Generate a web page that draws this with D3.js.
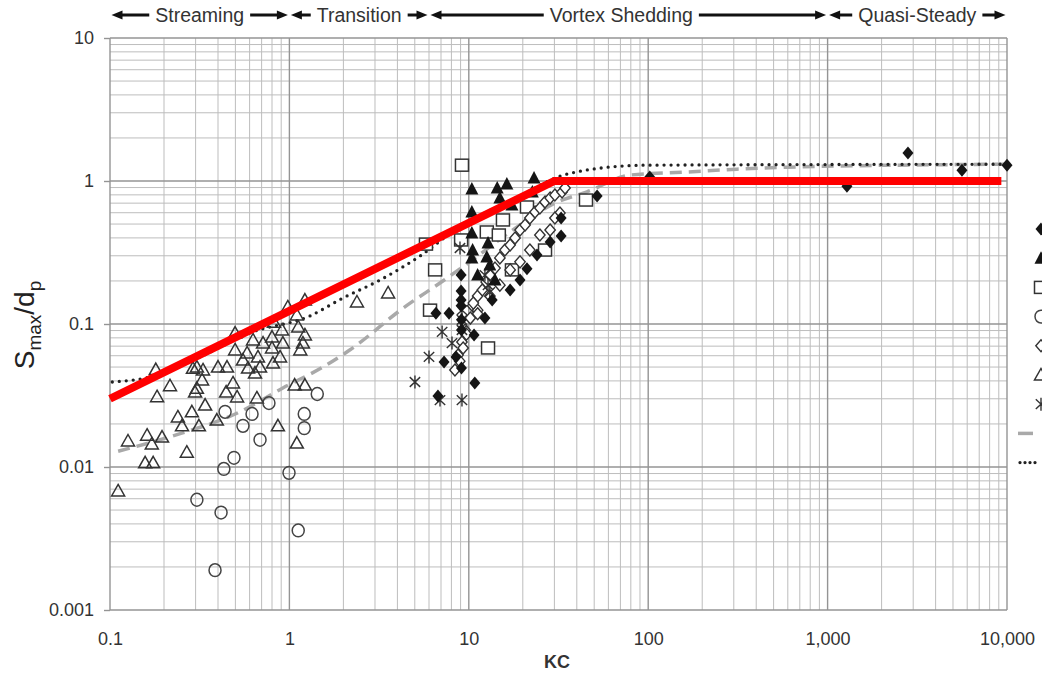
<!DOCTYPE html>
<html><head><meta charset="utf-8">
<script src="https://cdn.jsdelivr.net/npm/d3@7"></script>
<style>
body{margin:0;background:#fff}
svg{display:block;font-family:"Liberation Sans",Arial,Helvetica,sans-serif}
</style>
</head><body>
<svg id="c" width="1042" height="674"></svg>
<script>
// ---------------- data ----------------
const xTickValues = [0.1, 1, 10, 100, 1000, 10000];
const xTickLabels = ["0.1", "1", "10", "100", "1,000", "10,000"];
const yTickValues = [0.001, 0.01, 0.1, 1, 10];
const yTickLabels = ["0.001", "0.01", "0.1", "1", "10"];

const regionNames = ["Streaming", "Transition", "Vortex Shedding", "Quasi-Steady"];
const regionBounds = [0.1, 1, 6, 1000, 10000];

// [KC, Smax/dp]
const filledDiamonds = [[6.56,0.119],[7.76,0.119],[9.06,0.220],[9.06,0.170],[9.06,0.147],[9.06,0.134],[9.1,0.107],[9.1,0.0908],[7.28,0.0542],[8.49,0.0588],[9.1,0.0492],[10.8,0.0387],[6.73,0.0314],[10.7,0.0838],[12.3,0.110],[13.5,0.147],[21.1,0.243],[24.0,0.304],[28.4,0.374],[32.7,0.412],[32.7,0.551],[51.9,0.786],[17.0,0.173],[19.3,0.203],[102,1.066],[1282,0.92],[2805,1.57],[5610,1.19],[10000,1.29]];
const filledTriangles = [[10.4,0.879],[10.4,0.607],[10.4,0.433],[14.4,0.894],[16.3,0.953],[14.9,0.760],[23.1,1.05],[22.6,0.838],[10.5,0.329],[10.4,0.290],[12.8,0.368],[12.6,0.294],[13.1,0.259],[11.2,0.220],[14.0,0.203],[17.4,0.680]];
const openSquares = [[9.16,1.29],[5.77,0.362],[6.49,0.239],[6.08,0.125],[9.06,0.387],[12.8,0.068],[12.6,0.44],[15.5,0.534],[14.7,0.419],[17.4,0.239],[26.6,0.329],[45,0.736],[21.1,0.658]];
const openCircles = [[0.438,0.0243],[0.619,0.0235],[0.769,0.028],[0.551,0.0194],[0.686,0.0155],[1.43,0.0324],[1.21,0.0235],[1.21,0.0187],[0.491,0.0116],[0.431,0.0097],[0.995,0.0091],[0.305,0.0059],[0.416,0.0048],[1.12,0.0036],[0.385,0.0019]];
const openDiamonds = [[8.37,0.0477],[8.71,0.0607],[9.16,0.0748],[9.53,0.0908],[10.2,0.110],[10.5,0.134],[11.2,0.157],[11.9,0.173],[12.5,0.197],[13.1,0.220],[14.0,0.246],[14.9,0.290],[15.9,0.329],[17.0,0.357],[18.1,0.399],[19.3,0.454],[20.6,0.492],[21.9,0.551],[23.4,0.607],[24.9,0.647],[26.6,0.713],[28.4,0.760],[30.2,0.798],[33.1,0.838],[34.4,0.894],[11.2,0.125],[13.1,0.157],[14.9,0.187],[17.0,0.239],[19.3,0.272],[21.9,0.329],[24.9,0.419],[28.4,0.454],[32.2,0.597],[30.2,0.551],[9.7,0.085],[9.3,0.068],[8.9,0.055],[10.6,0.140],[11.2,0.118]];
const openTriangles = [[0.111,0.0068],[0.126,0.0152],[0.161,0.0167],[0.171,0.0145],[0.195,0.0162],[0.157,0.0107],[0.174,0.0107],[0.183,0.031],[0.180,0.048],[0.216,0.037],[0.239,0.0224],[0.252,0.0194],[0.268,0.0127],[0.286,0.0243],[0.298,0.0334],[0.313,0.0194],[0.305,0.050],[0.330,0.0477],[0.326,0.0406],[0.339,0.0271],[0.394,0.0213],[0.444,0.0334],[0.485,0.0387],[0.511,0.0309],[0.400,0.050],[0.449,0.050],[0.498,0.0865],[0.498,0.0658],[0.551,0.056],[0.581,0.0627],[0.627,0.0773],[0.668,0.0588],[0.686,0.050],[0.588,0.0492],[0.643,0.0454],[0.659,0.0304],[0.863,0.0194],[0.713,0.0736],[0.80,0.081],[0.80,0.068],[0.81,0.0533],[0.887,0.0588],[0.92,0.0736],[0.91,0.0908],[0.82,0.103],[0.98,0.1315],[1.10,0.1156],[1.12,0.0953],[1.22,0.0838],[1.19,0.0736],[1.15,0.0658],[1.22,0.147],[1.07,0.0374],[1.22,0.0374],[1.10,0.0147],[2.38,0.1425],[3.55,0.165],[0.29,0.049],[0.305,0.0355]];
const asterisks = [[5.01,0.0393],[6.0,0.0588],[7.1,0.088],[8.06,0.0736],[6.91,0.0294],[9.16,0.0294],[8.93,0.340],[9.16,0.125],[9.16,0.107],[9.16,0.0908],[12.3,0.220],[12.8,0.187],[13.1,0.167]];

const dashedCurve = [[0.111,0.0129],[0.224,0.0165],[0.53,0.0243],[0.92,0.0357],[1.54,0.050],[2.18,0.066],[4.3,0.129],[7.3,0.203],[9.9,0.267],[19.3,0.492],[30.2,0.70],[45.6,0.84],[79,1.10],[164,1.156],[312,1.21],[595,1.25],[10000,1.31]];
const dottedCurve = [[0.103,0.0393],[0.167,0.0426],[0.318,0.0588],[0.60,0.0865],[1.30,0.1138],[1.99,0.152],[3.2,0.203],[5.35,0.299],[8.71,0.469],[12.6,0.607],[17.0,0.725],[22.8,0.879],[32.2,1.08],[41.7,1.17],[53.8,1.23],[98.4,1.29],[10000,1.31]];
const redLine = [[0.1,0.03],[30,1],[9300,1]];

const legendSymbols = ["filledDiamond","filledTriangle","openSquare","openCircle","openDiamond","openTriangle","asterisk","dashed","dotted"];

// ---------------- chart ----------------
const svg = d3.select("#c");
const W = 1042, H = 674;
const L = 110, R = 1007, T = 38, B = 610;
const x = d3.scaleLog().domain([0.1, 10000]).range([L, R]);
const y = d3.scaleLog().domain([0.001, 10]).range([B, T]);

svg.append("rect").attr("width", W).attr("height", H).attr("fill", "#fff");

// grid
function minorVals(lo, hi) {
  const out = [];
  for (let e = Math.round(Math.log10(lo)); e < Math.round(Math.log10(hi)); e++)
    for (let d = 2; d <= 9; d++) out.push(d * Math.pow(10, e));
  return out;
}
const grid = svg.append("g");
grid.selectAll(".vx").data(minorVals(0.1, 10000)).join("line")
  .attr("x1", d => x(d)).attr("x2", d => x(d)).attr("y1", T).attr("y2", B)
  .attr("stroke", "#bdbdbd").attr("stroke-width", 1);
grid.selectAll(".hy").data(minorVals(0.001, 10)).join("line")
  .attr("x1", L).attr("x2", R).attr("y1", d => y(d)).attr("y2", d => y(d))
  .attr("stroke", "#bdbdbd").attr("stroke-width", 1);
grid.selectAll(".vX").data(xTickValues).join("line")
  .attr("x1", d => x(d)).attr("x2", d => x(d)).attr("y1", T).attr("y2", B)
  .attr("stroke", "#949494").attr("stroke-width", 1.4);
grid.selectAll(".hY").data(yTickValues).join("line")
  .attr("x1", L).attr("x2", R).attr("y1", d => y(d)).attr("y2", d => y(d))
  .attr("stroke", "#949494").attr("stroke-width", 1.4);

// axes
const xAxis = svg.append("g").attr("transform", `translate(0,${B})`)
  .call(d3.axisBottom(x).tickValues(xTickValues).tickSize(0).tickPadding(22)
    .tickFormat((d, i) => xTickLabels[i]));
xAxis.select(".domain").remove();
xAxis.selectAll("text").attr("font-size", 18).attr("fill", "#333")
  .attr("font-family", '"Liberation Sans",Arial,sans-serif');

const yAxis = svg.append("g").attr("transform", `translate(${L},0)`)
  .call(d3.axisLeft(y).tickValues(yTickValues).tickSize(6).tickPadding(10)
    .tickFormat((d, i) => yTickLabels[i]));
yAxis.select(".domain").remove();
yAxis.selectAll("line").attr("stroke", "#949494").attr("stroke-width", 1.4);
yAxis.selectAll("text").attr("font-size", 18).attr("fill", "#333")
  .attr("font-family", '"Liberation Sans",Arial,sans-serif');

// axis titles
svg.append("text").attr("x", 557).attr("y", 668).attr("text-anchor", "middle")
  .attr("font-size", 18).attr("font-weight", "bold").attr("fill", "#333").text("KC");

const yt = svg.append("text").attr("transform", "translate(34,325) rotate(-90)")
  .attr("text-anchor", "middle").attr("fill", "#222").attr("font-size", 28);
yt.append("tspan").text("S");
yt.append("tspan").attr("font-size", 19).attr("dy", 7).text("max");
yt.append("tspan").attr("dy", -7).text("/d");
yt.append("tspan").attr("font-size", 19).attr("dy", 7).text("p");

// lines
const line = d3.line().x(d => x(d[0])).y(d => y(d[1])).curve(d3.curveMonotoneX);
svg.append("path").attr("d", line(dashedCurve)).attr("fill", "none")
  .attr("stroke", "#a9a9a9").attr("stroke-width", 3.5).attr("stroke-dasharray", "12,7");
svg.append("path").attr("d", line(dottedCurve)).attr("fill", "none")
  .attr("stroke", "#222").attr("stroke-width", 3.3).attr("stroke-linecap", "round")
  .attr("stroke-dasharray", "0,7");

// symbols
function sym(g, type, cx, cy) {
  const ink = "#151515";
  if (type === "filledDiamond") {
    g.append("path").attr("d", `M${cx},${cy-6.5}L${cx+5.5},${cy}L${cx},${cy+6.5}L${cx-5.5},${cy}Z`).attr("fill", ink);
  } else if (type === "openDiamond") {
    g.append("path").attr("d", `M${cx},${cy-6}L${cx+5.2},${cy}L${cx},${cy+6}L${cx-5.2},${cy}Z`)
      .attr("fill", "#fff").attr("stroke", "#333").attr("stroke-width", 1.4);
  } else if (type === "filledTriangle") {
    g.append("path").attr("d", `M${cx},${cy-7}L${cx+6.5},${cy+5.5}L${cx-6.5},${cy+5.5}Z`).attr("fill", ink);
  } else if (type === "openTriangle") {
    g.append("path").attr("d", `M${cx},${cy-6.5}L${cx+6.5},${cy+5}L${cx-6.5},${cy+5}Z`)
      .attr("fill", "none").attr("stroke", "#333").attr("stroke-width", 1.5);
  } else if (type === "openSquare") {
    g.append("rect").attr("x", cx - 6.5).attr("y", cy - 6).attr("width", 13).attr("height", 12)
      .attr("fill", "#fff").attr("stroke", "#333").attr("stroke-width", 1.5);
  } else if (type === "openCircle") {
    g.append("ellipse").attr("cx", cx).attr("cy", cy).attr("rx", 6).attr("ry", 6.4)
      .attr("fill", "none").attr("stroke", "#444").attr("stroke-width", 1.5);
  } else if (type === "asterisk") {
    const r = 6.5;
    g.append("path").attr("d",
      `M${cx-r*0.8},${cy-r*0.75}L${cx+r*0.8},${cy+r*0.75}M${cx-r*0.8},${cy+r*0.75}L${cx+r*0.8},${cy-r*0.75}M${cx},${cy-r}L${cx},${cy+r}`)
      .attr("stroke", "#333").attr("stroke-width", 1.4).attr("fill", "none");
  } else if (type === "dashed") {
    g.append("line").attr("x1", cx - 23).attr("x2", cx - 8).attr("y1", cy).attr("y2", cy)
      .attr("stroke", "#a9a9a9").attr("stroke-width", 3.5);
  } else if (type === "dotted") {
    g.append("line").attr("x1", cx - 21).attr("x2", cx - 1).attr("y1", cy).attr("y2", cy)
      .attr("stroke", "#222").attr("stroke-width", 3.3).attr("stroke-linecap", "round")
      .attr("stroke-dasharray", "0,5");
  }
}
const marks = svg.append("g");
const seriesList = [
  ["openTriangle", openTriangles], ["openCircle", openCircles], ["openSquare", openSquares],
  ["openDiamond", openDiamonds], ["asterisk", asterisks],
  ["filledTriangle", filledTriangles], ["filledDiamond", filledDiamonds]
];
seriesList.forEach(([type, data]) => data.forEach(d => sym(marks, type, x(d[0]), y(d[1]))));

// red envelope
svg.append("path").attr("d", d3.line().x(d => x(d[0])).y(d => y(d[1]))(redLine))
  .attr("fill", "none").attr("stroke", "#ff0000").attr("stroke-width", 8);

// legend (cut at the right edge in the reference)
const lg = svg.append("g");
legendSymbols.forEach((t, i) => sym(lg, t, 1041, 229 + i * 29.2));

// regime annotations
const ann = svg.append("g");
const AY = 15;
const textShift = [0, 0, -7, 0];
function arrowHead(tipX, dir) {
  ann.append("path")
    .attr("d", `M${tipX},${AY}L${tipX - dir * 11},${AY - 4.5}L${tipX - dir * 11},${AY + 4.5}Z`)
    .attr("fill", "#111");
}
regionNames.forEach((name, i) => {
  const x0 = x(regionBounds[i]) + 1.5, x1 = x(regionBounds[i + 1]) - 1.5;
  const cx = (x0 + x1) / 2 + textShift[i];
  const t = ann.append("text").attr("x", cx).attr("y", AY + 7).attr("text-anchor", "middle")
    .attr("font-size", 19.5).attr("fill", "#333").text(name);
  const w = t.node().getComputedTextLength();
  const gap = 6;
  ann.append("line").attr("x1", x0 + 6).attr("x2", cx - w / 2 - gap).attr("y1", AY).attr("y2", AY)
    .attr("stroke", "#111").attr("stroke-width", 3);
  ann.append("line").attr("x1", cx + w / 2 + gap).attr("x2", x1 - 6).attr("y1", AY).attr("y2", AY)
    .attr("stroke", "#111").attr("stroke-width", 3);
  arrowHead(x0, -1);
  arrowHead(x1, 1);
});
</script>
</body></html>
